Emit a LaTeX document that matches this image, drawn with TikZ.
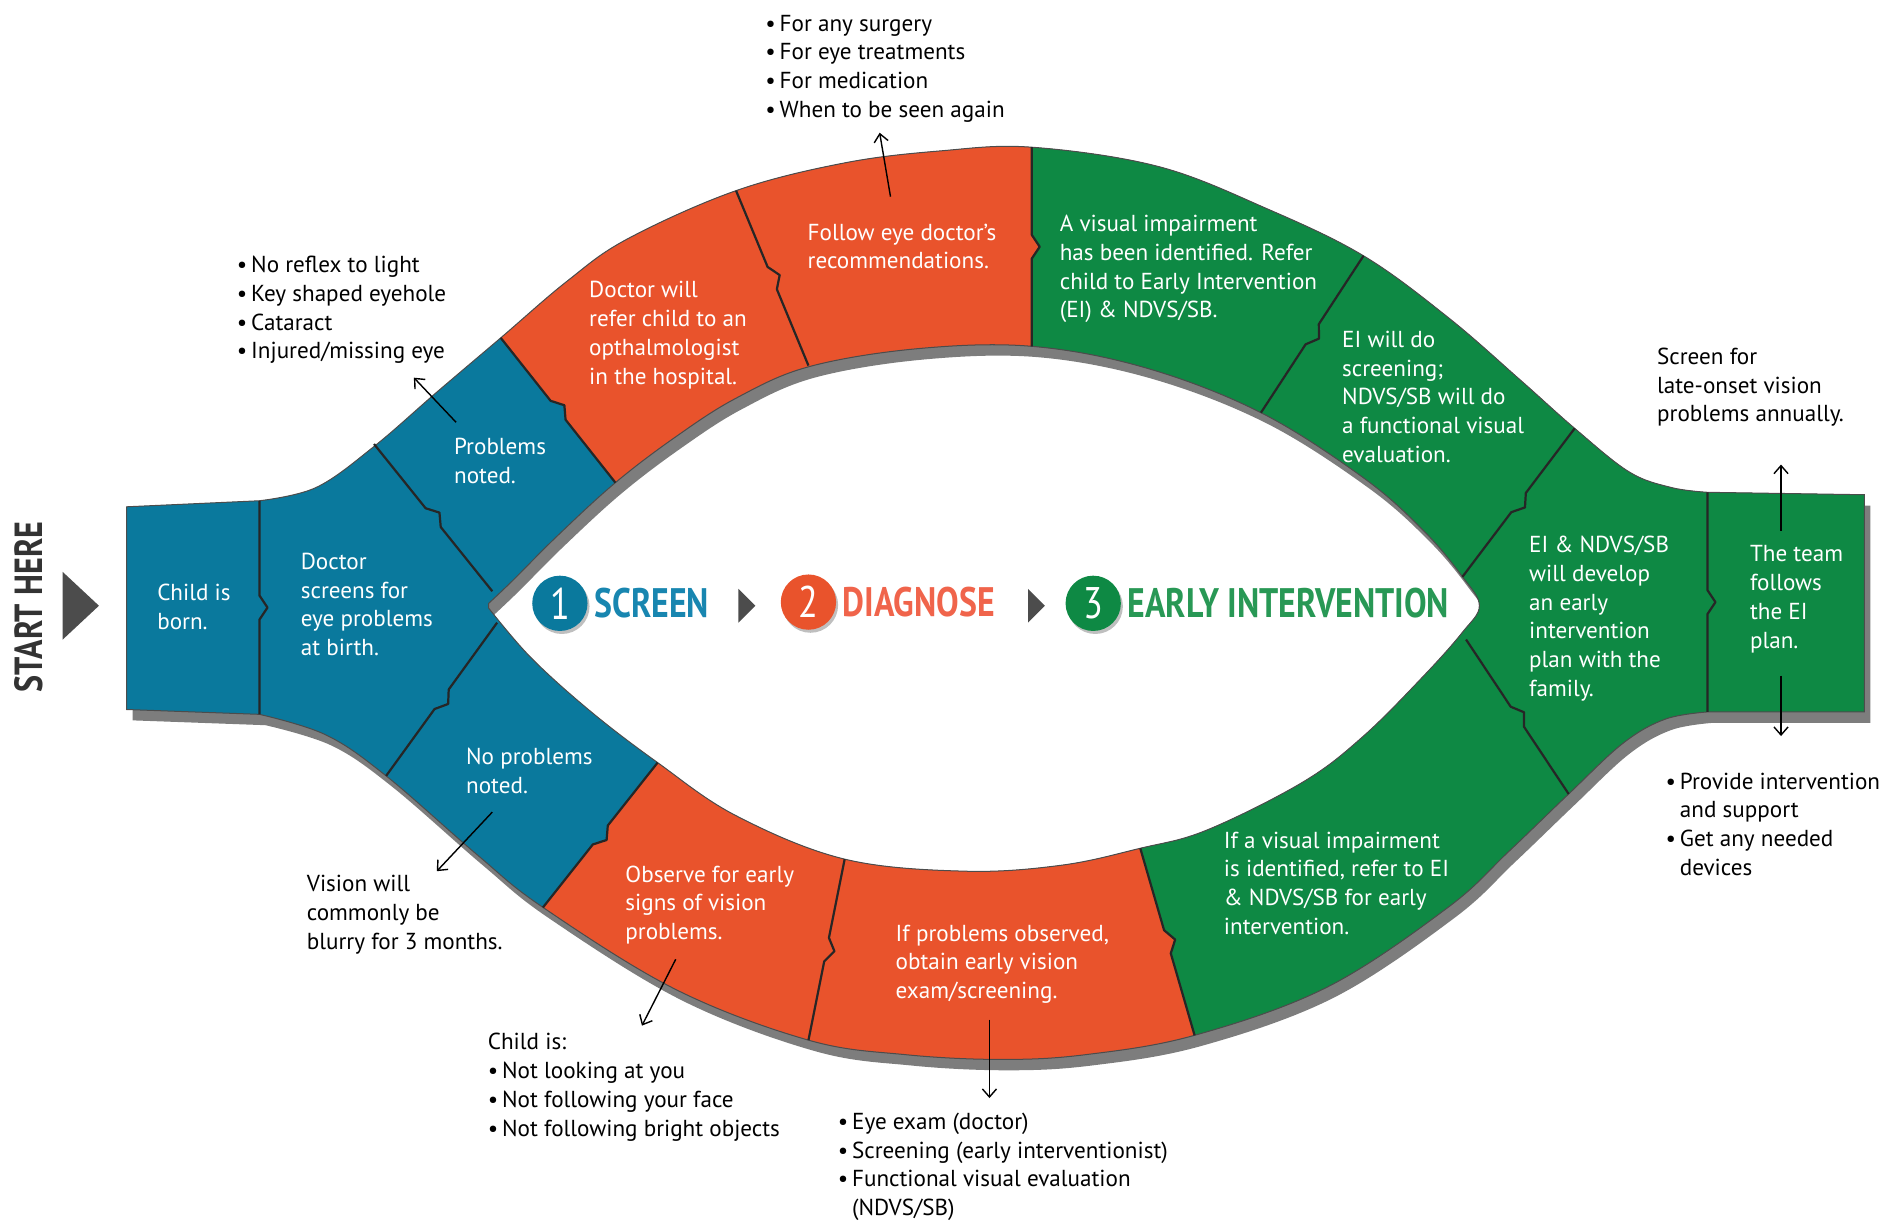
\documentclass[tikz,border=0pt]{standalone}
\usepackage{fontspec}
\setmainfont{PT Sans}
\newfontfamily\headfont{PT Sans}[FakeStretch=0.82]
\usepackage{xcolor}
\usetikzlibrary{calc,positioning,arrows.meta,shadows}

\definecolor{bandblue}{RGB}{10,121,157}
\definecolor{bandorange}{RGB}{233,83,44}
\definecolor{bandgreen}{RGB}{14,137,68}
\definecolor{bandshadow}{RGB}{125,125,125}
\definecolor{screenblue}{RGB}{24,134,176}
\definecolor{diagorange}{RGB}{240,100,75}
\definecolor{eigreen}{RGB}{40,152,85}

\tikzset{
  steptext/.style={text=white,align=left,inner sep=0pt,anchor=north west,
    font=\fontsize{11.5}{14.3}\selectfont},
  notetext/.style={text=black,align=left,inner sep=0pt,anchor=north west,
    font=\fontsize{11.5}{14.3}\selectfont},
  sepline/.style={draw=black!85,line width=1.1pt,line join=round},
  pointer/.style={-{Straight Barb[length=4pt,width=7pt]},line width=.7pt},
  numdot/.style={circle,minimum size=27.5pt,inner sep=0pt,text=white,
    font=\headfont\fontsize{22}{22}\selectfont,
    drop shadow={shadow xshift=1pt,shadow yshift=-1.5pt,fill=black!50}},
  headword/.style={inner sep=0pt,font=\headfont\bfseries\fontsize{20.5}{20.5}\selectfont},
}

\newcommand\notchto[2]{-- ($(#1)!.5!(#2)!6pt!(#1)$) -- ($(#1)!.5!(#2)!4pt!90:(#2)$) -- ($(#1)!.5!(#2)!6pt!(#2)$) -- (#2)}

\begin{document}
\begin{tikzpicture}[x=.6pt,y=-.6pt]
\useasboundingbox (0,0) rectangle (1568,1015);
\def\outline{(105,420) -- plot[smooth,tension=.6] coordinates {(215,415) (262,404) (310,370) (362,325) (415,280) (470,233) (520,198) (610,158) (700,135) (780,125) (855,122) (960,138) (1050,173) (1130,212) (1200,263) (1260,315) (1305,355) (1350,391) (1385,404) (1415,408)} -- (1545,410) -- (1545,590) -- plot[smooth,tension=.6] coordinates {(1415,590) (1380,596) (1345,616) (1300,658) (1250,706) (1200,752) (1100,818) (990,858) (900,874) (830,878) (750,874) (670,862) (560,820) (450,752) (395,708) (320,643) (270,609) (215,592)} -- (105,588) -- cycle}
\def\lens{plot[smooth,tension=.6] coordinates {(405,500) (425,481) (462,444) (510,400) (560,362) (610,330) (670,304) (760,289) (855,287) (950,305) (1045,342) (1130,396) (1180,440) (1212,478) (1226,502) (1212,524) (1180,560) (1130,610) (1080,648) (1000,688) (945,703) (880,717) (800,722) (700,712) (610,676) (545,632) (490,590) (440,545) (405,504)} -- cycle}

\coordinate (bornA) at (215,415);  \coordinate (bornB) at (215,592);
\coordinate (scrA) at (310,368);   \coordinate (scrB) at (408,490);
\coordinate (nopA) at (412,516);   \coordinate (nopB) at (320,643);
\coordinate (probA) at (415,280);  \coordinate (probB) at (510,400);
\coordinate (refA) at (610,158);   \coordinate (refB) at (670,303);
\coordinate (folA) at (855,122);   \coordinate (folB) at (855,287);
\coordinate (visA) at (1130,212);  \coordinate (visB) at (1045,342);
\coordinate (eiA) at (1305,355);   \coordinate (eiB) at (1212,478);
\coordinate (teamA) at (1415,408); \coordinate (teamB) at (1415,590);
\coordinate (obsA) at (545,632);   \coordinate (obsB) at (450,752);
\coordinate (ifpA) at (700,712);   \coordinate (ifpB) at (670,862);
\coordinate (ifvA) at (945,703);   \coordinate (ifvB) at (990,858);
\coordinate (devA) at (1215,530);  \coordinate (devB) at (1300,658);

\fill[bandshadow,even odd rule,shift={(5,9)}] \outline \lens;
\fill[bandblue,even odd rule] \outline \lens;
\begin{scope}[even odd rule]
  \clip \outline \lens;
  \fill[bandorange] (415,0) -- (probA) \notchto{probA}{probB} -- (obsA) \notchto{obsA}{obsB} -- (450,1015) -- (1568,1015) -- (1568,0) -- cycle;
  \fill[bandgreen] (855,0) -- (folA) \notchto{folA}{folB} -- (ifvA) \notchto{ifvA}{ifvB} -- (990,1015) -- (1568,1015) -- (1568,0) -- cycle;
\end{scope}
\draw[black!70,line width=.5pt,even odd rule] \outline \lens;

\foreach \s in {born,scr,nop,prob,ref,fol,vis,ei,team,obs,ifp,ifv,dev}
  \draw[sepline] (\s A) \notchto{\s A}{\s B};

\node[steptext] (born) at (130,484) {Child is\\born.};
\node[steptext] (screens) at (249,458) {Doctor\\screens for\\eye problems\\at birth.};
\node[steptext] (probs) at (376,363) {Problems\\noted.};
\node[steptext] (noprobs) at (386,620) {No problems\\noted.};
\node[steptext] (refer) at (488,233) {Doctor will\\refer child to an\\opthalmologist\\in the hospital.};
\node[steptext] (follow) at (669,185) {Follow eye doctor’s\\recommendations.};
\node[steptext] (visual) at (878,178) {A visual impairment\\has been identified. Refer\\child to Early Intervention\\(EI) \& NDVS/SB.};
\node[steptext] (eiwill) at (1112,274) {EI will do\\screening;\\NDVS/SB will do\\a functional visual\\evaluation.};
\node[steptext] (develop) at (1267,444) {EI \& NDVS/SB\\will develop\\an early\\intervention\\plan with the\\family.};
\node[steptext] (team) at (1450,452) {The team\\follows\\the EI\\plan.};
\node[steptext] (observe) at (518,717) {Observe for early\\signs of vision\\problems.};
\node[steptext] (ifprob) at (742,766) {If problems observed,\\obtain early vision\\exam/screening.};
\node[steptext] (ifvis) at (1014,689) {If a visual impairment\\is identified, refer to EI\\\& NDVS/SB for early\\intervention.};

\node[notetext] (surgery) at (634,12) {\textbullet\,For any surgery\\\textbullet\,For eye treatments\\\textbullet\,For medication\\\textbullet\,When to be seen again};
\node[notetext] (noreflex) at (196,212) {\textbullet\,No reflex to light\\\textbullet\,Key shaped eyehole\\\textbullet\,Cataract\\\textbullet\,Injured/missing eye};
\node[notetext] (blurry) at (254,725) {Vision will\\commonly be\\blurry for 3 months.};
\node[notetext] (childis) at (404,856) {Child is:\\\textbullet\,Not looking at you\\\textbullet\,Not following your face\\\textbullet\,Not following bright objects};
\node[notetext] (exam) at (694,922) {\textbullet\,Eye exam (doctor)\\\textbullet\,Screening (early interventionist)\\\textbullet\,Functional visual evaluation\\\phantom{\textbullet\,}(NDVS/SB)};
\node[notetext] (lateonset) at (1373,288) {Screen for\\late-onset vision\\problems annually.};
\node[notetext] (provide) at (1380,640) {\textbullet\,Provide intervention\\\phantom{\textbullet\,}and support\\\textbullet\,Get any needed\\\phantom{\textbullet\,}devices};

\coordinate (probsT) at (378,350);   \coordinate (noreflexH) at (343,313);
\coordinate (followT) at (738,163);  \coordinate (surgeryH) at (729,110);
\coordinate (noprobsT) at (408,673); \coordinate (blurryH) at (362,722);
\coordinate (observeT) at (560,795); \coordinate (childisH) at (532,850);
\coordinate (ifprobT) at (820,845);  \coordinate (examH) at (820,910);
\coordinate (teamT) at (1476,440);   \coordinate (lateonsetH) at (1476,385);
\coordinate (teamL) at (1476,560);   \coordinate (provideH) at (1476,610);
\draw[pointer] (probsT) -- (noreflexH);
\draw[pointer] (followT) -- (surgeryH);
\draw[pointer] (noprobsT) -- (blurryH);
\draw[pointer] (observeT) -- (childisH);
\draw[pointer] (ifprobT) -- (examH);
\draw[pointer] (teamT) -- (lateonsetH);
\draw[pointer] (teamL) -- (provideH);

\node[rotate=90,inner sep=0pt,text=black!80,font=\headfont\bfseries\fontsize{19.5}{19.5}\selectfont] (start) at (24,503) {START HERE};
\fill[black!70] (52,474) -- (82,502) -- (52,530) -- cycle;

\node[numdot,fill=bandblue] (one) at (464,500) {1};
\node[headword,text=screenblue,right=3pt of one] (screen) {SCREEN};
\fill[black!70] (612,488) -- (626,502) -- (612,516) -- cycle;
\node[numdot,fill=bandorange] (two) at (670,499) {2};
\node[headword,text=diagorange,right=3pt of two] (diagnose) {DIAGNOSE};
\fill[black!70] (852,488) -- (866,502) -- (852,516) -- cycle;
\node[numdot,fill=bandgreen] (three) at (906,500) {3};
\node[headword,text=eigreen,right=3pt of three] (early) {EARLY INTERVENTION};
\end{tikzpicture}
\end{document}
